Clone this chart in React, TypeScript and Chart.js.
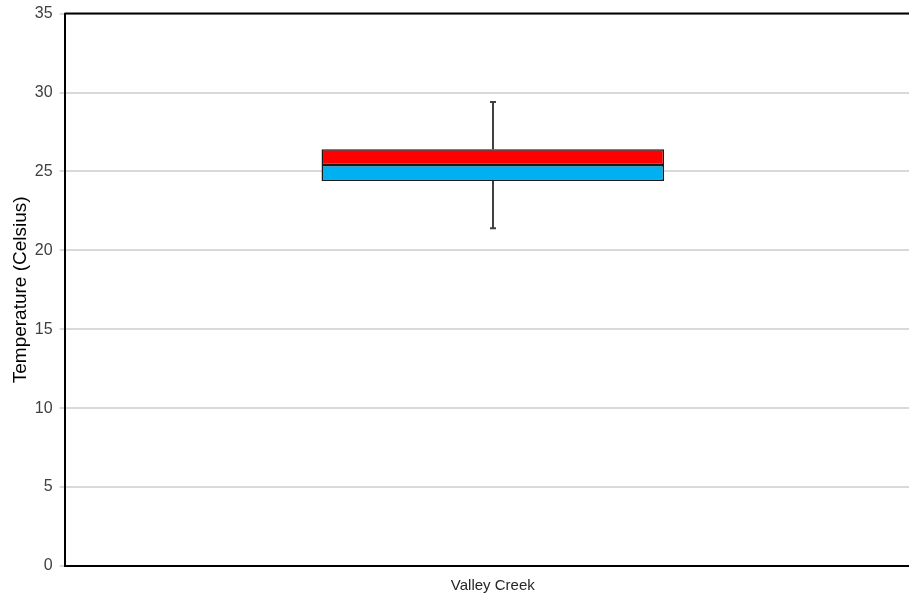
import React, { useEffect, useRef } from "react";
import { Chart, registerables } from "chart.js";

Chart.register(...registerables);

const categories = ["Valley Creek"];
const q1 = [24.4];
const median = [25.4];
const q3 = [26.4];
const whiskerLow = [21.4];
const whiskerHigh = [29.4];
const yTicks = [0, 5, 10, 15, 20, 25, 30, 35];

const whiskerPlugin = {
  id: "whiskers",
  beforeDatasetsDraw(chart: any) {
    const { ctx, scales } = chart;
    const x = scales.x;
    const y = scales.y;
    ctx.save();
    ctx.strokeStyle = "#404040";
    ctx.lineWidth = 2;
    categories.forEach((_, i) => {
      const cx = Math.round(x.getPixelForValue(i));
      const yl = y.getPixelForValue(whiskerLow[i]);
      const yh = y.getPixelForValue(whiskerHigh[i]);
      const yq1 = y.getPixelForValue(q1[i]);
      const yq3 = y.getPixelForValue(q3[i]);
      ctx.beginPath();
      ctx.moveTo(cx, yl);
      ctx.lineTo(cx, yq1);
      ctx.moveTo(cx, yq3);
      ctx.lineTo(cx, yh);
      ctx.stroke();
      ctx.beginPath();
      ctx.moveTo(cx - 3, yl);
      ctx.lineTo(cx + 3, yl);
      ctx.moveTo(cx - 3, yh);
      ctx.lineTo(cx + 3, yh);
      ctx.stroke();
    });
    ctx.restore();
  },
  afterDraw(chart: any) {
    const { ctx, chartArea } = chart;
    ctx.save();
    ctx.strokeStyle = "#000000";
    ctx.lineWidth = 2;
    ctx.beginPath();
    ctx.moveTo(chartArea.left, chartArea.top);
    ctx.lineTo(chartArea.right + 2, chartArea.top);
    ctx.stroke();
    ctx.restore();
  },
};

export default function App() {
  const ref = useRef<HTMLCanvasElement>(null);
  useEffect(() => {
    if (!ref.current) return;
    const chart = new Chart(ref.current, {
      type: "bar",
      data: {
        labels: categories,
        datasets: [
          {
            label: "Lower",
            data: categories.map((_, i) => [q1[i], median[i]]),
            backgroundColor: "#00b0f0",
            borderColor: "#1a1a1a",
            borderWidth: 1.5,
            borderSkipped: false,
            grouped: false,
            barPercentage: 0.4,
            categoryPercentage: 1,
          } as any,
          {
            label: "Upper",
            data: categories.map((_, i) => [median[i], q3[i]]),
            backgroundColor: "#ff0000",
            borderColor: "#1a1a1a",
            borderWidth: 1.5,
            borderSkipped: false,
            grouped: false,
            barPercentage: 0.4,
            categoryPercentage: 1,
          } as any,
        ],
      },
      options: {
        animation: false,
        responsive: true,
        maintainAspectRatio: false,
        layout: { padding: { top: 4, right: 0, bottom: 2, left: 9 } },
        plugins: {
          legend: { display: false },
          tooltip: { enabled: false },
        },
        scales: {
          x: {
            grid: { display: false, drawTicks: false },
            border: { color: "#000000", width: 2 },
            ticks: {
              color: "#262626",
              font: { family: "Liberation Sans, Arial", size: 15 },
              padding: 11,
            },
          },
          y: {
            min: 0,
            max: 35,
            afterBuildTicks: (axis: any) => {
              axis.ticks = yTicks.map((v) => ({ value: v }));
            },
            grid: {
              color: "#d9d9d9",
              lineWidth: 2,
              tickLength: 5,
            },
            border: { color: "#000000", width: 2 },
            ticks: {
              color: "#404040",
              font: { family: "Liberation Sans, Arial", size: 16 },
              padding: 7,
            },
            title: {
              display: true,
              text: "Temperature (Celsius)",
              color: "#000000",
              font: { family: "Liberation Sans, Arial", size: 19 },
              padding: { top: 0, bottom: -4 },
            },
          },
        },
      },
      plugins: [whiskerPlugin],
    });
    return () => chart.destroy();
  }, []);
  return (
    <div style={{ position: "fixed", left: 0, top: 0, width: 909, height: 599, overflow: "hidden", background: "#fff" }}>
      <div style={{ position: "absolute", left: 0, top: -3, width: 921, height: 611 }}>
        <canvas ref={ref} />
      </div>
    </div>
  );
}
